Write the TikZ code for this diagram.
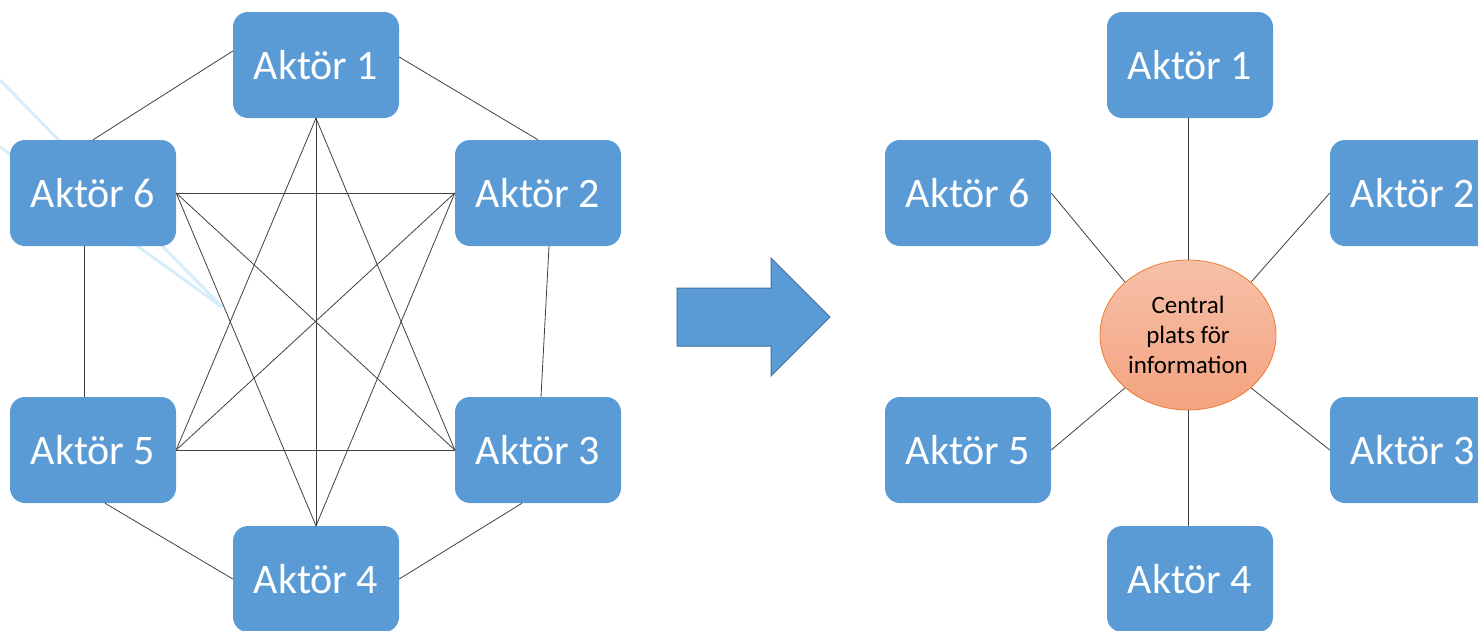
\documentclass[tikz,border=0pt]{standalone}
\usepackage{fontspec}
\setmainfont{Carlito}
\usetikzlibrary{shapes.geometric}
\definecolor{aktorblue}{HTML}{5B9BD5}
\definecolor{arrowedge}{HTML}{41719C}
\definecolor{infotop}{HTML}{F6C0A8}
\definecolor{infobottom}{HTML}{F4A380}
\definecolor{infoedge}{HTML}{ED7D31}
\definecolor{faintline}{HTML}{D6EEF9}

\begin{document}
\begin{tikzpicture}[x=1pt,y=-1pt,
    aktor/.style={rectangle, rounded corners=15pt, fill=aktorblue, text=white,
        minimum width=166pt, minimum height=106pt, inner sep=0pt,
        font=\fontsize{42}{50}\selectfont},
    link/.style={draw=black!75, line width=0.8pt}]
\useasboundingbox (0,0) rectangle (1478,630);

% faint lines in the background
\draw[faintline, line width=3pt] (0,80) -- (222,307);
\draw[faintline, line width=3pt] (0,147) -- (222,307);

% everyone with everyone
\node[aktor] (A1) at (316,65) {Aktör 1};
\node[aktor] (A2) at (538,193) {Aktör 2};
\node[aktor] (A3) at (538,450) {Aktör 3};
\node[aktor] (A4) at (316,579) {Aktör 4};
\node[aktor] (A5) at (93,450) {Aktör 5};
\node[aktor] (A6) at (93,193) {Aktör 6};

\draw[link] ([yshift=14pt]A1.west) -- (A6.north);
\draw[link] ([yshift=8pt]A1.east) -- (A2.north);
\draw[link] ([xshift=11pt]A2.south) -- ([xshift=3pt]A3.north);
\draw[link] ([xshift=-9pt]A6.south) -- ([xshift=-9pt]A5.north);
\draw[link] ([xshift=12pt]A5.south) -- (A4.west);
\draw[link] ([xshift=-16pt]A3.south) -- (A4.east);
\foreach \a/\b in {A1.south/A4.north, A1.south/A5.east, A1.south/A3.west,
    A6.east/A2.west, A6.east/A3.west, A6.east/A4.north,
    A2.west/A5.east, A2.west/A4.north, A5.east/A3.west}
    \draw[link] (\a) -- (\b);

% the arrow
\filldraw[fill=aktorblue, draw=arrowedge, line width=1pt]
    (677,288) -- (771,288) -- (771,258) -- (830,317) -- (771,376)
    -- (771,346) -- (677,346) -- cycle;

% everyone through one place
\node[ellipse, draw=infoedge, line width=0.8pt, top color=infotop, bottom color=infobottom,
    minimum width=176pt, minimum height=150pt, inner sep=0pt, align=center,
    font=\fontsize{25}{30}\selectfont] (info) at (1188,335) {Central\\plats för\\information};

\node[aktor] (B1) at (1190,65) {Aktör 1};
\node[aktor] (B2) at (1413,193) {Aktör 2};
\node[aktor] (B3) at (1413,450) {Aktör 3};
\node[aktor] (B4) at (1190,579) {Aktör 4};
\node[aktor] (B5) at (968,450) {Aktör 5};
\node[aktor] (B6) at (968,193) {Aktör 6};

\draw[link] ([xshift=-2pt]B1.south) -- (info.north);
\draw[link] ([xshift=-2pt]B4.north) -- (info.south);
\draw[link] (B6.east) -- (info.140);
\draw[link] (B2.west) -- (info.40);
\draw[link] (B5.east) -- (info.220);
\draw[link] (B3.west) -- (info.320);
\end{tikzpicture}
\end{document}
